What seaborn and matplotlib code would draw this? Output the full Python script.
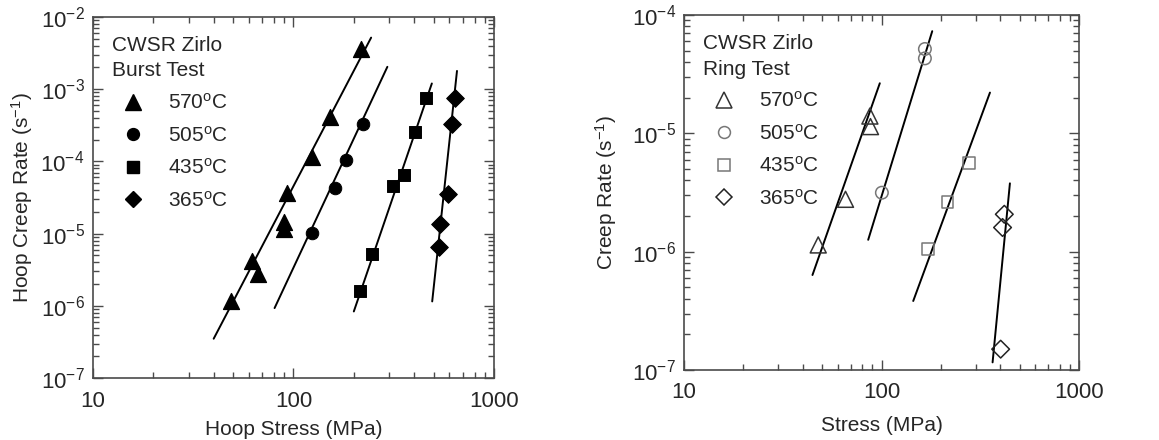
import numpy as np
import pandas as pd
import seaborn as sns
import matplotlib.pyplot as plt
from matplotlib.lines import Line2D

sns.set_style("ticks")
plt.rcParams["font.family"] = ["Liberation Sans", "DejaVu Sans"]
plt.rcParams["mathtext.fontset"] = "custom"
plt.rcParams["mathtext.rm"] = "Liberation Sans"
plt.rcParams["mathtext.it"] = "Liberation Sans:italic"

temps = ["570", "505", "435", "365"]
xticks = [10, 100, 1000]
xtick_labels = ["10", "100", "1000"]

# Burst test (left) - hoop stress MPa, hoop creep rate 1/s
burst_570_x = [48.6, 61.9, 66.5, 89.3, 89.3, 92.8, 123.7, 151.4, 216]
burst_570_y = [1.17e-6, 4.19e-6, 2.77e-6, 1.47e-5, 1.15e-5, 3.61e-5, 1.16e-4, 4.15e-4, 3.65e-3]
burst_505_x = [123.2, 160.4, 183.4, 222]
burst_505_y = [1.01e-5, 4.32e-5, 1.04e-4, 3.25e-4]
burst_435_x = [215.4, 246, 313.5, 355.6, 402, 459.7]
burst_435_y = [1.61e-6, 5.24e-6, 4.56e-5, 6.47e-5, 2.57e-4, 7.59e-4]
burst_365_x = [529.7, 539.8, 589.7, 615, 636.8]
burst_365_y = [6.6e-6, 1.36e-5, 3.53e-5, 3.28e-4, 7.59e-4]

# fitted lines (end points)
burst_fit_x = {"570": [40, 244], "505": [80.5, 294], "435": [200, 490], "365": [492, 654]}
burst_fit_y = {"570": [3.5e-7, 5.18e-3], "505": [9.3e-7, 2.04e-3],
               "435": [8.35e-7, 1.2e-3], "365": [1.15e-6, 1.79e-3]}

# Ring test (right)
ring_570_x = [47.8, 65.7, 87.3, 87.9]
ring_570_y = [1.14e-6, 2.77e-6, 1.40e-5, 1.14e-5]
ring_505_x = [100.4, 165.8, 165.8]
ring_505_y = [3.15e-6, 5.16e-5, 4.3e-5]
ring_435_x = [172.4, 216, 277]
ring_435_y = [1.05e-6, 2.61e-6, 5.58e-6]
ring_365_x = [401, 410, 418.5]
ring_365_y = [1.5e-7, 1.6e-6, 2.07e-6]

ring_fit_x = {"570": [44.7, 98], "505": [85.6, 180.6], "435": [144.7, 354], "365": [365, 446.7]}
ring_fit_y = {"570": [6.35e-7, 2.65e-5], "505": [1.26e-6, 7.3e-5],
              "435": [3.83e-7, 2.21e-5], "365": [1.16e-7, 3.78e-6]}

def make_df(xs, ys):
    rows = []
    for t, x, y in zip(temps, xs, ys):
        for a, b in zip(x, y):
            rows.append({"stress": a, "rate": b, "temp": t})
    return pd.DataFrame(rows)

burst = make_df([burst_570_x, burst_505_x, burst_435_x, burst_365_x],
                [burst_570_y, burst_505_y, burst_435_y, burst_365_y])
ring = make_df([ring_570_x, ring_505_x, ring_435_x, ring_365_x],
               [ring_570_y, ring_505_y, ring_435_y, ring_365_y])

markers = {"570": "^", "505": "o", "435": "s", "365": "D"}
sizes = {"570": 11.5, "505": 9, "435": 8.5, "365": 9}
ring_edge = {"570": "#333333", "505": "#777777", "435": "#777777", "365": "#222222"}

fig = plt.figure(figsize=(11.59, 4.40), dpi=100)
ax1 = fig.add_axes([0.0802, 0.1409, 0.346, 0.8205])
ax2 = fig.add_axes([0.5902, 0.1591, 0.3408, 0.8068])

def style_axis(ax, ylo, yhi):
    ax.set_xscale("log")
    ax.set_yscale("log")
    ax.set_xlim(10, 1000)
    ax.set_ylim(ylo, yhi)
    ax.set_xticks(xticks, xtick_labels)
    ax.tick_params(which="both", direction="in", top=True, right=True,
                   color="#4a4a4a", labelsize=16, width=1)
    ax.tick_params(which="major", length=7, pad=6)
    ax.tick_params(which="minor", length=4)
    ax.tick_params(axis="x", which="major", pad=9)
    for s in ax.spines.values():
        s.set_color("#4a4a4a")
        s.set_linewidth(1.2)

def add_legend(ax, handles, title):
    leg = ax.legend(handles, [t + "$^{\\mathrm{o}}$C" for t in temps],
                    title=title, loc="upper left", frameon=False,
                    fontsize=15, title_fontsize=15, handletextpad=0.7, labelspacing=0.6,
                    borderaxespad=0.5)
    leg._legend_box.align = "left"
    leg._legend_title_box._text.set_linespacing(1.45)
    return leg

# left panel
for t in temps:
    sub = burst[burst["temp"] == t]
    sns.lineplot(x=burst_fit_x[t], y=burst_fit_y[t], ax=ax1, color="black", lw=1.4)
    sns.scatterplot(data=sub, x="stress", y="rate", ax=ax1, marker=markers[t],
                    color="black", edgecolor="black", s=sizes[t] ** 2, legend=False, zorder=3)
style_axis(ax1, 1e-7, 1e-2)
ax1.set_xlabel("Hoop Stress (MPa)", fontsize=15, labelpad=6)
ax1.set_ylabel("Hoop Creep Rate (s$^{-1}$)", fontsize=15)

handles1 = [Line2D([], [], ls="none", marker=markers[t], color="black",
                   markersize=sizes[t] * 0.95) for t in temps]
add_legend(ax1, handles1, "CWSR Zirlo\nBurst Test")

# right panel
for t in temps:
    sub = ring[ring["temp"] == t]
    sns.lineplot(x=ring_fit_x[t], y=ring_fit_y[t], ax=ax2, color="black", lw=1.4)
    sns.scatterplot(data=sub, x="stress", y="rate", ax=ax2, marker=markers[t],
                    facecolor="none", edgecolor=ring_edge[t], linewidth=1.1,
                    s=sizes[t] ** 2, legend=False, zorder=3)
style_axis(ax2, 1e-7, 1e-4)
ax2.set_xlabel("Stress (MPa)", fontsize=15, labelpad=9)
ax2.set_ylabel("Creep Rate (s$^{-1}$)", fontsize=15, labelpad=9)

handles2 = [Line2D([], [], ls="none", marker=markers[t], markerfacecolor="none",
                   markeredgecolor=ring_edge[t], markeredgewidth=1.1,
                   markersize=sizes[t] * 0.95) for t in temps]
add_legend(ax2, handles2, "CWSR Zirlo\nRing Test")

fig.savefig("out.png", dpi=100)
